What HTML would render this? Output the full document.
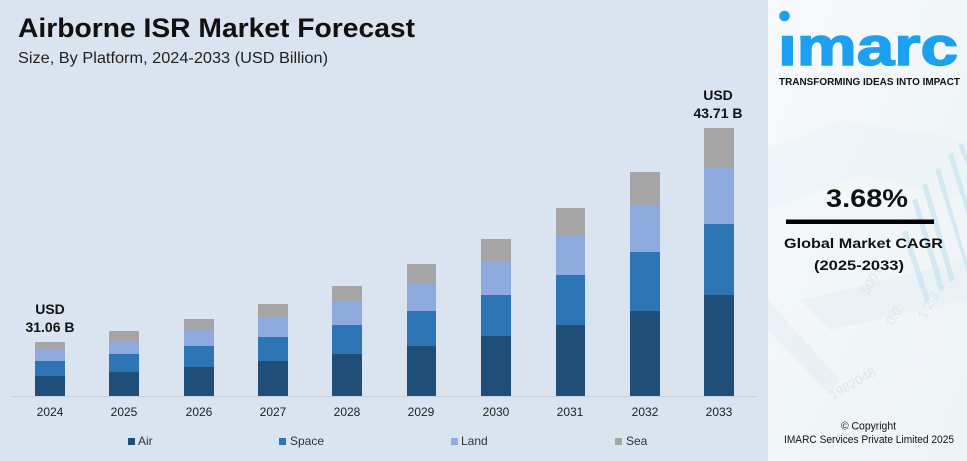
<!DOCTYPE html>
<html>
<head>
<meta charset="utf-8">
<style>
html,body{margin:0;padding:0;background:#fff;}
svg{display:block;}
</style>
</head>
<body>
<svg width="967" height="461" viewBox="0 0 967 461" xmlns="http://www.w3.org/2000/svg" font-family="'Liberation Sans', sans-serif">
  <defs>
    <linearGradient id="rg" x1="0" y1="0" x2="1" y2="1">
      <stop offset="0" stop-color="#f7fafc"/>
      <stop offset="0.5" stop-color="#f1f6f9"/>
      <stop offset="1" stop-color="#eef3f6"/>
    </linearGradient>
  </defs>
  <!-- left panel -->
  <rect x="0" y="0" width="768" height="461" fill="#dae3f0"/>
  <!-- right panel -->
  <rect x="768" y="0" width="199" height="461" fill="url(#rg)"/>
  <!-- faint background decorations right panel -->
  <g opacity="0.55">
    <polygon points="768,150 840,120 967,140 967,200 860,175 768,210" fill="#eaf3f7"/>
    <polygon points="800,300 967,260 967,300 830,330" fill="#e6eef2"/>
    <polygon points="768,300 840,380 830,395 768,330" fill="#e4ebef"/>
  </g>
  <g fill="#cfe8f1" opacity="0.9">
    <polygon points="902,232 907,230 930,300 925,302"/>
    <polygon points="912,200 917,198 945,290 940,292"/>
    <polygon points="922,185 927,183 955,280 950,282"/>
    <polygon points="935,170 940,168 967,262 967,272"/>
    <polygon points="948,155 953,153 967,200 967,215"/>
    <polygon points="958,145 963,143 967,155 967,165"/>
  </g>
  <g fill="#d9e2e8" font-size="13" opacity="0.8">
    <text x="868" y="295" transform="rotate(-60 868 295)">500.0</text>
    <text x="893" y="326" transform="rotate(-60 893 326)">0.0</text>
    <text x="925" y="320" transform="rotate(-60 925 320)">1 2 3 4</text>
    <text x="833" y="400" transform="rotate(-30 833 400)">1982048</text>
    <text x="830" y="450" transform="rotate(-30 830 450)">0.15785</text>
  </g>

  <!-- title -->
  <text x="18" y="37" font-size="27" font-weight="bold" fill="#111" textLength="397" lengthAdjust="spacingAndGlyphs">Airborne ISR Market Forecast</text>
  <text x="18" y="63" font-size="16" fill="#222" textLength="310" lengthAdjust="spacingAndGlyphs">Size, By Platform, 2024-2033 (USD Billion)</text>

  <!-- axis line -->
  <line x1="12" y1="396.5" x2="756" y2="396.5" stroke="#c6ceda" stroke-width="1"/>

  <!-- bars -->
  <g>
    <!-- 2024 -->
    <rect x="35" y="342" width="30" height="8" fill="#a5a5a5"/>
    <rect x="35" y="350" width="30" height="11" fill="#8faadc"/>
    <rect x="35" y="361" width="30" height="15" fill="#2e75b6"/>
    <rect x="35" y="376" width="30" height="20" fill="#1f4e79"/>
    <!-- 2025 -->
    <rect x="109" y="331" width="30" height="10" fill="#a5a5a5"/>
    <rect x="109" y="341" width="30" height="13" fill="#8faadc"/>
    <rect x="109" y="354" width="30" height="18" fill="#2e75b6"/>
    <rect x="109" y="372" width="30" height="24" fill="#1f4e79"/>
    <!-- 2026 -->
    <rect x="184" y="319" width="30" height="11" fill="#a5a5a5"/>
    <rect x="184" y="330" width="30" height="16" fill="#8faadc"/>
    <rect x="184" y="346" width="30" height="21" fill="#2e75b6"/>
    <rect x="184" y="367" width="30" height="29" fill="#1f4e79"/>
    <!-- 2027 -->
    <rect x="258" y="304" width="30" height="13" fill="#a5a5a5"/>
    <rect x="258" y="317" width="30" height="20" fill="#8faadc"/>
    <rect x="258" y="337" width="30" height="24" fill="#2e75b6"/>
    <rect x="258" y="361" width="30" height="35" fill="#1f4e79"/>
    <!-- 2028 -->
    <rect x="332" y="286" width="30" height="16" fill="#a5a5a5"/>
    <rect x="332" y="302" width="30" height="23" fill="#8faadc"/>
    <rect x="332" y="325" width="30" height="29" fill="#2e75b6"/>
    <rect x="332" y="354" width="30" height="42" fill="#1f4e79"/>
    <!-- 2029 -->
    <rect x="407" y="264" width="29" height="20" fill="#a5a5a5"/>
    <rect x="407" y="284" width="29" height="27" fill="#8faadc"/>
    <rect x="407" y="311" width="29" height="35" fill="#2e75b6"/>
    <rect x="407" y="346" width="29" height="50" fill="#1f4e79"/>
    <!-- 2030 -->
    <rect x="481" y="239" width="30" height="23" fill="#a5a5a5"/>
    <rect x="481" y="262" width="30" height="33" fill="#8faadc"/>
    <rect x="481" y="295" width="30" height="41" fill="#2e75b6"/>
    <rect x="481" y="336" width="30" height="60" fill="#1f4e79"/>
    <!-- 2031 -->
    <rect x="556" y="208" width="29" height="28" fill="#a5a5a5"/>
    <rect x="556" y="236" width="29" height="39" fill="#8faadc"/>
    <rect x="556" y="275" width="29" height="50" fill="#2e75b6"/>
    <rect x="556" y="325" width="29" height="71" fill="#1f4e79"/>
    <!-- 2032 -->
    <rect x="630" y="172" width="30" height="33" fill="#a5a5a5"/>
    <rect x="630" y="205" width="30" height="47" fill="#8faadc"/>
    <rect x="630" y="252" width="30" height="59" fill="#2e75b6"/>
    <rect x="630" y="311" width="30" height="85" fill="#1f4e79"/>
    <!-- 2033 -->
    <rect x="704" y="128" width="30" height="40" fill="#a5a5a5"/>
    <rect x="704" y="168" width="30" height="56" fill="#8faadc"/>
    <rect x="704" y="224" width="30" height="71" fill="#2e75b6"/>
    <rect x="704" y="295" width="30" height="101" fill="#1f4e79"/>
  </g>

  <!-- value labels -->
  <g font-size="14" font-weight="bold" fill="#111" text-anchor="middle">
    <text x="50" y="314">USD</text>
    <text x="50" y="332">31.06 B</text>
    <text x="718" y="100">USD</text>
    <text x="718" y="118">43.71 B</text>
  </g>

  <!-- year labels -->
  <g font-size="12" fill="#222" text-anchor="middle">
    <text x="50" y="416">2024</text>
    <text x="124" y="416">2025</text>
    <text x="199" y="416">2026</text>
    <text x="273" y="416">2027</text>
    <text x="347" y="416">2028</text>
    <text x="421" y="416">2029</text>
    <text x="496" y="416">2030</text>
    <text x="570" y="416">2031</text>
    <text x="645" y="416">2032</text>
    <text x="719" y="416">2033</text>
  </g>

  <!-- legend -->
  <g font-size="12" fill="#333">
    <rect x="128" y="438" width="7" height="7" fill="#1f4e79"/>
    <text x="138" y="445">Air</text>
    <rect x="279" y="438" width="7" height="7" fill="#2e75b6"/>
    <text x="290" y="445">Space</text>
    <rect x="451" y="438" width="7" height="7" fill="#8faadc"/>
    <text x="461" y="445">Land</text>
    <rect x="615" y="438" width="7" height="7" fill="#a5a5a5"/>
    <text x="626" y="445">Sea</text>
  </g>

  <!-- logo -->
  <circle cx="784.5" cy="16" r="5.3" fill="#1ea0f0"/>
  <text x="778" y="65" font-size="54" font-weight="bold" fill="#1ea0f0" stroke="#1ea0f0" stroke-width="1.5" textLength="180" lengthAdjust="spacingAndGlyphs">ımarc</text>
  <text x="779" y="85" font-size="10.5" font-weight="bold" fill="#111" textLength="181" lengthAdjust="spacingAndGlyphs">TRANSFORMING IDEAS INTO IMPACT</text>

  <!-- CAGR -->
  <text x="867" y="207" font-size="25" font-weight="bold" fill="#111" text-anchor="middle" textLength="82" lengthAdjust="spacingAndGlyphs">3.68%</text>
  <rect x="786" y="219.5" width="148" height="4.5" fill="#000"/>
  <text x="784" y="248" font-size="14" font-weight="bold" fill="#111" textLength="159" lengthAdjust="spacingAndGlyphs">Global Market CAGR</text>
  <text x="859" y="270" font-size="14" font-weight="bold" fill="#111" text-anchor="middle" textLength="90" lengthAdjust="spacingAndGlyphs">(2025-2033)</text>

  <!-- copyright -->
  <text x="868.5" y="429.5" font-size="11" fill="#111" text-anchor="middle" textLength="55" lengthAdjust="spacingAndGlyphs">© Copyright</text>
  <text x="784" y="443" font-size="11" fill="#111" textLength="170" lengthAdjust="spacingAndGlyphs">IMARC Services Private Limited 2025</text>
</svg>
</body>
</html>
